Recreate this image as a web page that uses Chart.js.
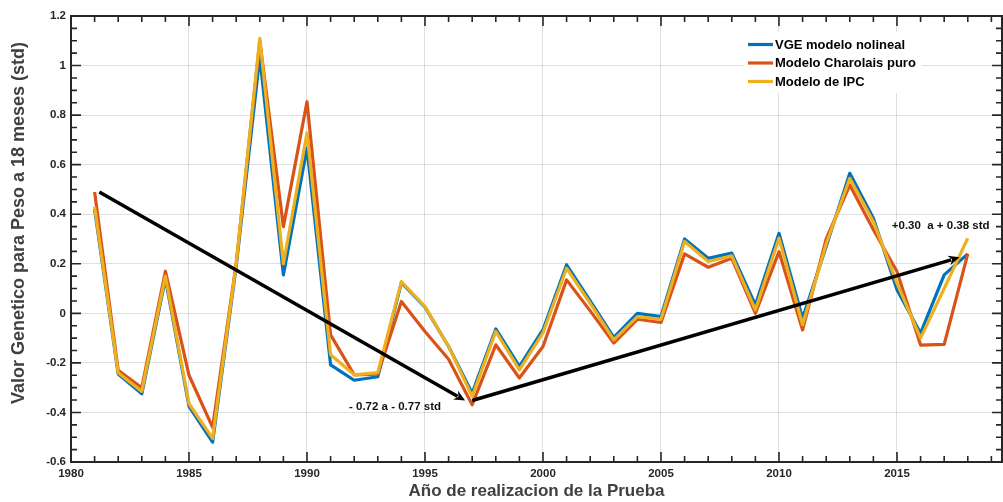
<!DOCTYPE html>
<html><head><meta charset="utf-8">
<script src="https://cdn.jsdelivr.net/npm/chart.js@4.4.0/dist/chart.umd.min.js"></script>
<style>html,body{margin:0;padding:0;background:#fff;overflow:hidden;} #wrap{width:1003px;height:502px;position:relative;}</style>
</head><body><div id="wrap"><canvas id="c" width="1003" height="502"></canvas></div>
<script>
const years = [1981,1982,1983,1984,1985,1986,1987,1988,1989,1990,1991,1992,1993,1994,1995,1996,1997,1998,1999,2000,2001,2002,2003,2004,2005,2006,2007,2008,2009,2010,2011,2012,2013,2014,2015,2016,2017,2018];
const vgeNoLineal = [0.42,-0.245,-0.325,0.14,-0.375,-0.52,0.19,1.035,0.155,0.667,-0.208,-0.27,-0.256,0.124,0.025,-0.134,-0.322,-0.063,-0.214,-0.066,0.196,0.05,-0.097,0.0,-0.013,0.30,0.222,0.243,0.034,0.323,-0.02,0.27,0.565,0.384,0.095,-0.08,0.155,0.24];
const charolaisPuro = [0.49,-0.23,-0.30,0.17,-0.25,-0.46,0.2,1.10,0.35,0.854,-0.087,-0.248,-0.245,0.048,-0.073,-0.185,-0.369,-0.127,-0.261,-0.134,0.135,0.01,-0.12,-0.024,-0.037,0.24,0.186,0.222,0.0,0.249,-0.067,0.30,0.518,0.337,0.169,-0.128,-0.125,0.24];
const modeloIPC = [0.43,-0.24,-0.315,0.15,-0.365,-0.505,0.2,1.11,0.20,0.728,-0.167,-0.248,-0.239,0.128,0.027,-0.134,-0.335,-0.073,-0.228,-0.079,0.182,0.04,-0.107,-0.013,-0.024,0.29,0.209,0.232,0.014,0.303,-0.046,0.28,0.545,0.37,0.122,-0.1,0.1,0.303];
const seriesLabels = ['VGE modelo nolineal','Modelo Charolais puro','Modelo de IPC'];
const xTicks = [1980,1985,1990,1995,2000,2005,2010,2015];
const xTickLabels = ['1980','1985','1990','1995','2000','2005','2010','2015'];
const yTicks = [-0.6,-0.4,-0.2,0,0.2,0.4,0.6,0.8,1,1.2];
const yTickLabels = ['-0.6','-0.4','-0.2','0','0.2','0.4','0.6','0.8','1','1.2'];
const xTitle = 'Año de realizacion de la Prueba';
const yTitle = 'Valor Genetico para Peso a 18 meses (std)';
const arrowFrom = [[1981.2,0.49],[1997.0,-0.352]];
const arrowTo = [[1996.7,-0.352],[2017.65,0.226]];
const trendTexts = ['- 0.72 a - 0.77 std','+0.30  a + 0.38 std'];
const trendTextAt = [[1991.78,-0.376],[2014.78,0.353]];

const FONT = "'Liberation Sans', Arial, Helvetica, sans-serif";
const colors = ['#0072BD','#D95319','#EDB120'];
const seriesData = [vgeNoLineal, charolaisPuro, modeloIPC];

const axisBox = {
  id:'axisBox',
  afterDatasetsDraw(chart){
    const {ctx, chartArea:{left,right,top,bottom}, scales:{x,y}} = chart;
    ctx.save();
    // arrows
    ctx.strokeStyle='#000'; ctx.fillStyle='#000'; ctx.lineWidth=3.5; ctx.lineCap='butt';
    for (let i=0;i<arrowFrom.length;i++){
      const x0=x.getPixelForValue(arrowFrom[i][0]), y0=y.getPixelForValue(arrowFrom[i][1]);
      const x1=x.getPixelForValue(arrowTo[i][0]), y1=y.getPixelForValue(arrowTo[i][1]);
      const ang=Math.atan2(y1-y0,x1-x0), L=11, W=5;
      const bx=x1-L*Math.cos(ang)*0.8, by=y1-L*Math.sin(ang)*0.8;
      ctx.beginPath(); ctx.moveTo(x0,y0); ctx.lineTo(bx,by); ctx.stroke();
      ctx.beginPath();
      ctx.moveTo(x1,y1);
      ctx.lineTo(x1-L*Math.cos(ang)+W*Math.sin(ang), y1-L*Math.sin(ang)-W*Math.cos(ang));
      ctx.lineTo(x1-L*0.7*Math.cos(ang), y1-L*0.7*Math.sin(ang));
      ctx.lineTo(x1-L*Math.cos(ang)-W*Math.sin(ang), y1-L*Math.sin(ang)+W*Math.cos(ang));
      ctx.closePath(); ctx.fill();
    }
    ctx.font = "bold 11.5px "+FONT; ctx.textBaseline='middle'; ctx.textAlign='left'; ctx.fillStyle='#111';
    for (let i=0;i<trendTexts.length;i++){
      ctx.fillText(trendTexts[i], x.getPixelForValue(trendTextAt[i][0]), y.getPixelForValue(trendTextAt[i][1]));
    }
    // ticks
    ctx.strokeStyle='#262626'; ctx.lineWidth=1.6;
    ctx.beginPath();
    for (let yr=1980; yr<=2019; yr++){
      const px=x.getPixelForValue(yr); const len = yr%5===0?10:6;
      ctx.moveTo(px,bottom); ctx.lineTo(px,bottom-len);
      ctx.moveTo(px,top); ctx.lineTo(px,top+len);
    }
    for (let k=-12;k<=24;k++){
      const py=y.getPixelForValue(k*0.05); const len = (k%4===0)?10:6;
      ctx.moveTo(left,py); ctx.lineTo(left+len,py);
      ctx.moveTo(right,py); ctx.lineTo(right-len,py);
    }
    ctx.stroke();
    ctx.lineWidth=2;
    ctx.strokeRect(left,top,right-left,bottom-top);
    // y title
    ctx.save();
    ctx.translate(19, 223); ctx.rotate(-Math.PI/2);
    ctx.font = "bold 18px "+FONT; ctx.fillStyle='#404040'; ctx.textAlign='center'; ctx.textBaseline='middle';
    ctx.fillText(yTitle, 0, 0);
    ctx.restore();
    // legend
    const lx=744, ly=32, lw=178, lh=61;
    ctx.fillStyle='#fff'; ctx.fillRect(lx,ly,lw,lh);
    ctx.font = "bold 13px "+FONT; ctx.textBaseline='middle'; ctx.textAlign='left';
    chart.data.datasets.forEach((ds,i)=>{
      const ry = 44.5 + i*18.5;
      ctx.strokeStyle=ds.borderColor; ctx.lineWidth=3.2;
      ctx.beginPath(); ctx.moveTo(748,ry); ctx.lineTo(773,ry); ctx.stroke();
      ctx.fillStyle='#000'; ctx.fillText(ds.label, 775, ry+0.5);
    });
    ctx.restore();
  }
};

new Chart(document.getElementById('c'), {
  type:'line',
  data:{
    datasets: seriesLabels.map((lab,i)=>({
      label: lab,
      data: years.map((yr,j)=>({x:yr, y:seriesData[i][j]})),
      borderColor: colors[i], backgroundColor: colors[i],
      borderWidth: 3.2, pointRadius: 0, tension: 0, fill:false,
      borderJoinStyle:'round', order: 2-i
    }))
  },
  options:{
    responsive:false, animation:false, devicePixelRatio:1,
    layout:{padding:{left:0,right:1,top:16,bottom:0}},
    plugins:{legend:{display:false}, tooltip:{enabled:false}},
    scales:{
      x:{type:'linear', min:1980, max:2019.45,
        afterBuildTicks:s=>{s.ticks = xTicks.map(v=>({value:v}));},
        afterFit:s=>{s.height=40;},
        ticks:{padding:5, maxRotation:0, autoSkip:false, color:'#262626', font:{family:FONT, size:11.5, weight:'bold'},
          callback:(v,i)=>xTickLabels[i]},
        grid:{color:'rgba(38,38,38,0.15)', lineWidth:1, drawTicks:false},
        border:{display:false},
        title:{display:true, text:xTitle, color:'#404040', padding:{top:0,bottom:0}, font:{family:FONT, size:17, weight:'bold'}}
      },
      y:{type:'linear', min:-0.6, max:1.2,
        afterBuildTicks:s=>{s.ticks = yTicks.map(v=>({value:v}));},
        afterFit:s=>{s.width=71;},
        ticks:{padding:5, color:'#262626', font:{family:FONT, size:11.5, weight:'bold'},
          callback:(v,i)=>yTickLabels[i]},
        grid:{color:'rgba(38,38,38,0.15)', lineWidth:1, drawTicks:false},
        border:{display:false},
        title:{display:false}
      }
    }
  },
  plugins:[axisBox]
});
</script></body></html>
